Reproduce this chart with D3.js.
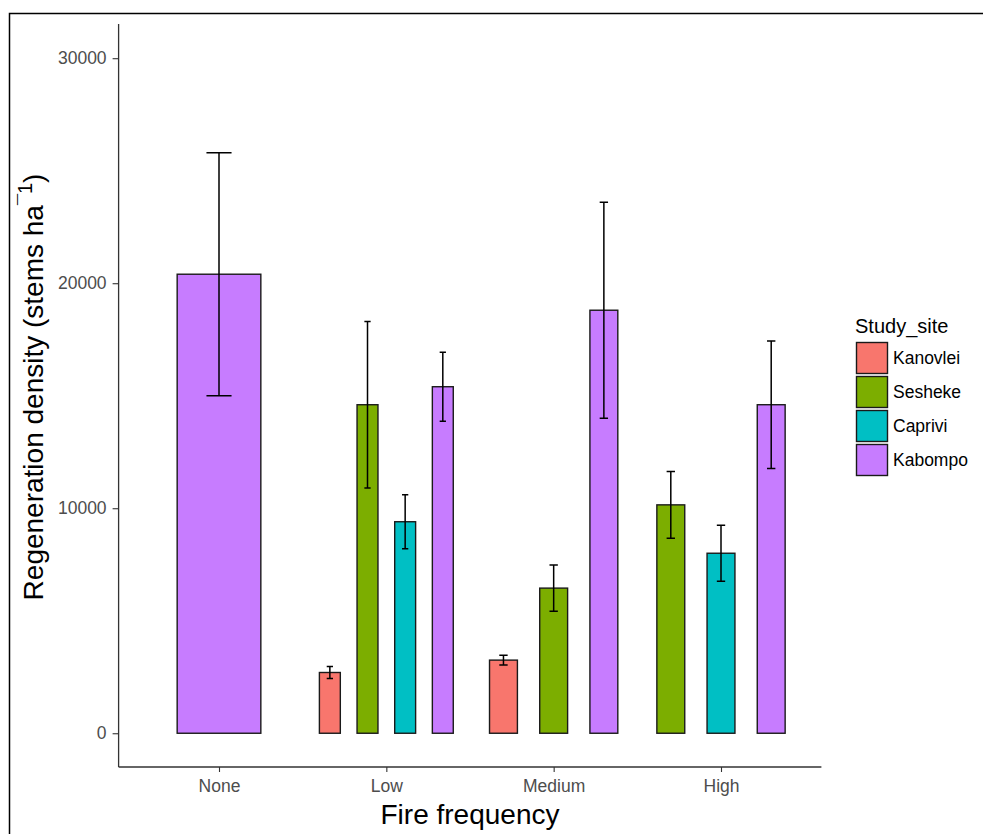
<!DOCTYPE html>
<html>
<head>
<meta charset="utf-8">
<script src="https://cdn.jsdelivr.net/npm/d3@7"></script>
<style>
  html, body { margin: 0; padding: 0; background: #fff; }
  svg { display: block; font-family: "Liberation Sans", Arial, sans-serif; }
</style>
</head>
<body>
<svg id="chart" width="983" height="834"></svg>
<script>
// Fire frequency classes on the x axis
const categories = ["None", "Low", "Medium", "High"];
// Study sites (fill groups)
const sites = ["Kanovlei", "Sesheke", "Caprivi", "Kabompo"];
const siteColors = ["#F8766D", "#7CAE00", "#00BFC4", "#C77CFF"];

// Mean regeneration density (stems/ha) per site, in category order; null = not sampled
const kanovleiMean = [null, 2700, 3250, null];
const seshekeMean  = [null, 14600, 6450, 10150];
const capriviMean  = [null, 9400, null, 8000];
const kabompoMean  = [20400, 15400, 18800, 14600];

// Standard errors for the error bars
const kanovleiSE = [null, 270, 220, null];
const seshekeSE  = [null, 3700, 1030, 1480];
const capriviSE  = [null, 1200, null, 1240];
const kabompoSE  = [5400, 1530, 4800, 2830];

const yTicks = [0, 10000, 20000, 30000];

const means = [kanovleiMean, seshekeMean, capriviMean, kabompoMean];
const ses = [kanovleiSE, seshekeSE, capriviSE, kabompoSE];

// Long table of bars, dodged within each category
const rows = [];
categories.forEach((cat, ci) => {
  const present = sites.map((s, si) => si).filter(si => means[si][ci] != null);
  present.forEach((si, k) => {
    rows.push({ cat, site: sites[si], si, mean: means[si][ci], se: ses[si][ci], k, n: present.length });
  });
});

const svg = d3.select("#chart");
const panel = { left: 118.6, right: 821.4, top: 24, bottom: 767 };

const x = d3.scalePoint().domain(categories).range([panel.left, panel.right]).padding(0.6);
const step = x.step();
const y = d3.scaleLinear().domain([-1500, 31520]).range([panel.bottom, panel.top]);
const color = d3.scaleOrdinal().domain(sites).range(siteColors);

// dodge geometry: total dodge width 0.9, bar width 0.5, error cap 0.15 (in category units)
const center = d => x(d.cat) + (d.k - (d.n - 1) / 2) * (0.9 / d.n) * step;
const barW = d => (0.5 / d.n) * step;
const capW = d => (0.15 / d.n) * step;

// outer frame
svg.append("rect")
  .attr("x", 9.5).attr("y", 13.5).attr("width", 1000).attr("height", 900)
  .attr("fill", "none").attr("stroke", "#000").attr("stroke-width", 1.5);

// bars
svg.append("g").selectAll("rect").data(rows).join("rect")
  .attr("x", d => center(d) - barW(d) / 2)
  .attr("y", d => y(d.mean))
  .attr("width", barW)
  .attr("height", d => y(0) - y(d.mean))
  .attr("fill", d => color(d.site))
  .attr("stroke", "#1a1a1a")
  .attr("stroke-width", 1.4);

// error bars
const eb = svg.append("g").attr("stroke", "#000").attr("stroke-width", 1.5).attr("fill", "none");
eb.selectAll("path").data(rows).join("path")
  .attr("d", d => {
    const c = center(d), w = capW(d) / 2;
    const hi = y(d.mean + d.se), lo = y(d.mean - d.se);
    return `M${c - w},${hi}H${c + w}M${c},${hi}V${lo}M${c - w},${lo}H${c + w}`;
  });

// axes
const yAxis = svg.append("g")
  .attr("transform", `translate(${panel.left},0)`)
  .call(d3.axisLeft(y).tickValues(yTicks).tickFormat(d3.format("d")).tickSizeOuter(0).tickSize(6).tickPadding(6));
const xAxis = svg.append("g")
  .attr("transform", `translate(0,${panel.bottom})`)
  .call(d3.axisBottom(x).tickSizeOuter(0).tickSize(5).tickPadding(8));

[yAxis, xAxis].forEach(a => {
  a.select(".domain").attr("stroke", "#333").attr("stroke-width", 1.3);
  a.selectAll(".tick line").attr("stroke", "#333").attr("stroke-width", 1.1);
  a.selectAll(".tick text").attr("fill", "#4d4d4d").attr("font-size", 17.5)
    .attr("font-family", "'Liberation Sans', Arial, sans-serif");
});
yAxis.select(".domain").attr("d", `M0,${panel.top}V${panel.bottom}`);
xAxis.select(".domain").attr("d", `M${panel.left},0H${panel.right}`);

// axis titles
svg.append("text")
  .attr("x", (panel.left + panel.right) / 2).attr("y", 824)
  .attr("text-anchor", "middle").attr("font-size", 28).attr("fill", "#000")
  .text("Fire frequency");

const yt = svg.append("text")
  .attr("transform", "translate(43,387) rotate(-90)")
  .attr("text-anchor", "middle").attr("font-size", 28).attr("fill", "#000");
yt.append("tspan").text("Regeneration density (stems ha");
yt.append("tspan").attr("dy", -11).attr("font-size", 20).text("\u00AF1");
yt.append("tspan").attr("dy", 11).text(")");

// legend
const lg = svg.append("g").attr("transform", "translate(855,0)");
lg.append("text").attr("x", 0).attr("y", 333).attr("font-size", 20).attr("fill", "#000").text("Study_site");
const items = lg.selectAll("g.item").data(sites).join("g").attr("class", "item")
  .attr("transform", (d, i) => `translate(0,${342 + i * 34})`);
items.append("rect")
  .attr("x", 1.5).attr("y", 0.5).attr("width", 31).attr("height", 31)
  .attr("fill", d => color(d)).attr("stroke", "#1a1a1a").attr("stroke-width", 1.4);
items.append("text")
  .attr("x", 38).attr("y", 22).attr("font-size", 17.5).attr("fill", "#000")
  .text(d => d);
</script>
</body>
</html>
